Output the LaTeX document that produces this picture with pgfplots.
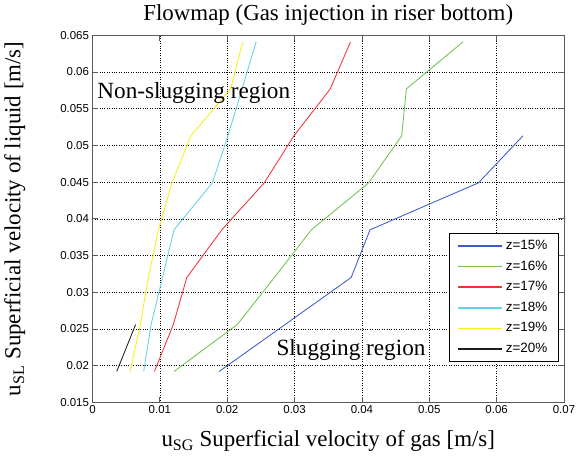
\documentclass[border=0pt]{standalone}
\usepackage{fontspec}
\setmainfont{Liberation Serif}
\newfontfamily\ticksfont{Liberation Sans}
\usepackage{pgfplots}
\pgfplotsset{compat=1.18}
\definecolor{mblue}{RGB}{60,90,200}
\definecolor{mgreen}{RGB}{110,195,80}
\definecolor{mred}{RGB}{245,50,50}
\definecolor{mcyan}{RGB}{100,210,230}
\definecolor{myellow}{RGB}{245,240,20}
\definecolor{mblack}{RGB}{30,30,30}
\begin{document}
\begin{tikzpicture}
\useasboundingbox (-92.5bp,-60.7bp) rectangle (494.5bp,402.3bp);
\begin{axis}[
  at={(0,0)}, anchor=south west,
  scale only axis, width=471.5bp, height=367bp,
  xmin=0, xmax=0.07, ymin=0.015, ymax=0.065,
  xtick={0,0.01,0.02,0.03,0.04,0.05,0.06,0.07},
  xticklabels={0,0.01,0.02,0.03,0.04,0.05,0.06,0.07},
  ytick={0.015,0.02,0.025,0.03,0.035,0.04,0.045,0.05,0.055,0.06,0.065},
  yticklabels={0.015,0.02,0.025,0.03,0.035,0.04,0.045,0.05,0.055,0.06,0.065},
  scaled ticks=false,
  ticklabel style={font=\ticksfont\fontsize{11.5}{13}\selectfont},
  tick align=inside, major tick length=5.5bp,
  xmajorgrids, ymajorgrids,
  grid style={black, dotted, line width=0.6bp},
  axis line style={black!65, line width=0.8bp},
  tick style={black!65, line width=0.8bp},
  title={Flowmap (Gas injection in riser bottom)},
  title style={font=\fontsize{23}{26}\selectfont, at={(axis description cs:0.5,1)}, anchor=base, yshift=8.5bp},
  xlabel={u\textsubscript{SG} Superficial velocity of gas [m/s]},
  xlabel style={font=\fontsize{23}{26}\selectfont, at={(axis description cs:0.5,0)}, anchor=base, yshift=-44.4bp},
  ylabel={u\textsubscript{SL} Superficial velocity of liquid [m/s]},
  ylabel style={font=\fontsize{23}{26}\selectfont, at={(axis description cs:-0.153,0.5)}, anchor=base},
  legend style={at={(axis description cs:0.989,0.461)}, anchor=north east, draw=black, line width=0.8bp, fill=white,
    font=\ticksfont\fontsize{13.5}{15}\selectfont, inner xsep=8bp, inner ysep=2.2bp,
    nodes={inner xsep=3bp, inner ysep=3.8bp, text height=10bp, text depth=3bp}},
  legend cell align=left,
  legend image code/.code={\draw[#1, line width=1.6bp] (0bp,0bp) -- (44bp,0bp);},
  every axis plot/.append style={line width=0.85bp, mark=none},
]
\addplot[mblue] coordinates {(0.0188,0.0192) (0.0286,0.0256) (0.0384,0.0320) (0.0412,0.0385) (0.0573,0.0449) (0.0639,0.0513)};
\addlegendentry{z=15\%}
\addplot[mgreen] coordinates {(0.0121,0.0192) (0.0215,0.0256) (0.0270,0.0320) (0.0325,0.0385) (0.0410,0.0449) (0.0459,0.0513) (0.0466,0.0577) (0.0550,0.0641)};
\addlegendentry{z=16\%}
\addplot[mred] coordinates {(0.0092,0.0192) (0.0120,0.0256) (0.0140,0.0320) (0.0192,0.0385) (0.0255,0.0449) (0.0299,0.0513) (0.0353,0.0577) (0.0383,0.0641)};
\addlegendentry{z=17\%}
\addplot[mcyan] coordinates {(0.0076,0.0192) (0.0087,0.0256) (0.0104,0.0320) (0.0121,0.0385) (0.0178,0.0449) (0.0201,0.0513) (0.0222,0.0577) (0.0243,0.0641)};
\addlegendentry{z=18\%}
\addplot[myellow] coordinates {(0.0056,0.0192) (0.0071,0.0256) (0.0083,0.0320) (0.0098,0.0385) (0.0118,0.0449) (0.0146,0.0513) (0.0205,0.0577) (0.0223,0.0641)};
\addlegendentry{z=19\%}
\addplot[mblack] coordinates {(0.0036,0.0192) (0.0064,0.0256)};
\addlegendentry{z=20\%}
\node[font=\fontsize{23.3}{26}\selectfont, anchor=base west, inner sep=0pt] at (axis cs:0.0007,0.0564) {Non-slugging region};
\node[font=\fontsize{23.3}{26}\selectfont, anchor=base west, inner sep=0pt] at (axis cs:0.0273,0.0214) {Slugging region};
\end{axis}
\end{tikzpicture}
\end{document}
